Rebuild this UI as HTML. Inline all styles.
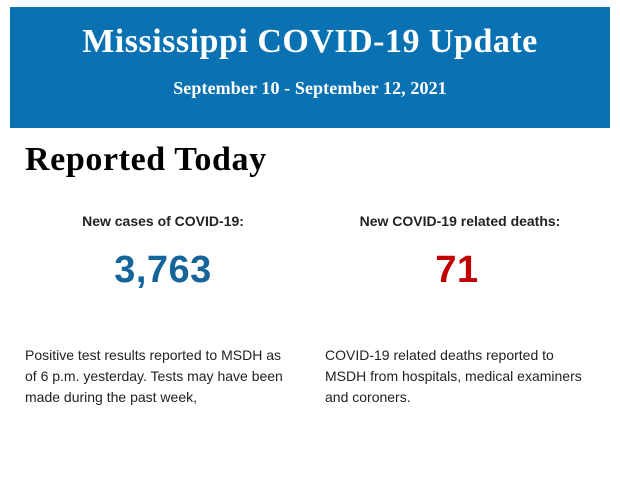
<!DOCTYPE html>
<html><head><meta charset="utf-8"><style>
body{margin:0;width:620px;height:483px;background:#fff;position:relative;overflow:hidden;font-family:"Liberation Sans",sans-serif}
.hdr{position:absolute;left:10px;top:7px;width:600px;height:121px;background:#0a72b2;color:#fff;font-family:"Liberation Serif",serif;font-weight:bold;text-align:center}
.t{position:absolute;top:16px;width:100%;font-size:34px;letter-spacing:0.5px}
.s{position:absolute;top:71px;width:100%;font-size:18px;letter-spacing:0.1px}
.rt{position:absolute;left:25px;top:141px;font-family:"Liberation Serif",serif;font-weight:bold;font-size:34px;letter-spacing:0.6px;color:#000}
.h{position:absolute;top:213px;font-size:14px;font-weight:bold;color:#222;text-align:center}
.n{position:absolute;top:249px;font-size:38px;font-weight:bold;text-align:center;letter-spacing:0.5px}
.p{position:absolute;top:345px;font-size:14px;line-height:21px;color:#222}
</style></head><body>
<div class="hdr"><div class="t">Mississippi COVID-19 Update</div><div class="s">September 10 - September 12, 2021</div></div>
<div class="rt">Reported Today</div>
<div class="h" style="left:63px;width:200px">New cases of COVID-19:</div>
<div class="h" style="left:330px;width:260px">New COVID-19 related deaths:</div>
<div class="n" style="left:63px;width:200px;color:#16659a">3,763</div>
<div class="n" style="left:377px;width:160px;color:#c00000">71</div>
<div class="p" style="left:25px;width:272px">Positive test results reported to MSDH as<br>of 6 p.m. yesterday. Tests may have been<br>made during the past week,</div>
<div class="p" style="left:325px;width:272px">COVID-19 related deaths reported to MSDH from hospitals, medical examiners and coroners.</div>
</body></html>
